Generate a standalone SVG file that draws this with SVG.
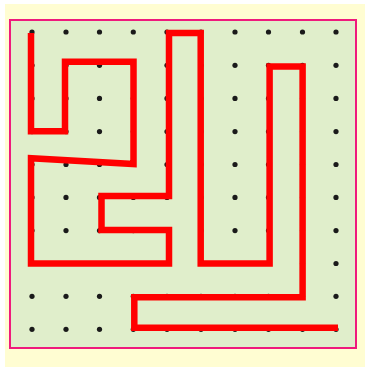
<svg xmlns="http://www.w3.org/2000/svg" width="365" height="367" viewBox="0 0 365 367">
<defs>
<style>
.dot{fill:#1a1a1a}
.line{fill:none;stroke:#ff0000;stroke-width:6.5;stroke-linejoin:miter;stroke-linecap:butt}
</style>
<g id="d"><circle class="dot" cx="32" cy="0" r="2.6"/><circle class="dot" cx="66" cy="0" r="2.6"/><circle class="dot" cx="99.5" cy="0" r="2.6"/><circle class="dot" cx="133.3" cy="0" r="2.6"/><circle class="dot" cx="167" cy="0" r="2.6"/><circle class="dot" cx="201" cy="0" r="2.6"/><circle class="dot" cx="235" cy="0" r="2.6"/><circle class="dot" cx="268.5" cy="0" r="2.6"/><circle class="dot" cx="302.5" cy="0" r="2.6"/><circle class="dot" cx="336" cy="0" r="2.6"/></g>
</defs>
<rect x="0" y="0" width="365" height="367" fill="#ffffff"/>
<rect x="5" y="4" width="360" height="363" fill="#fffdd2"/>
<g id="board">
<rect x="10" y="20" width="346" height="328" fill="#e0eecb" stroke="#ef1a7c" stroke-width="2"/>
</g>
<g id="dots">
<use href="#d" y="32"/>
<use href="#d" y="65.3"/>
<use href="#d" y="98.4"/>
<use href="#d" y="131.6"/>
<use href="#d" y="164.5"/>
<use href="#d" y="197.4"/>
<use href="#d" y="230.6"/>
<use href="#d" y="263.5"/>
<use href="#d" y="296.3"/>
<use href="#d" y="329.3"/>
</g>
<g id="connectors">
<path class="line" d="M31,33 V131.3 H65 V61.7 H133.5 V164 L31,158.3 V263.5 H169 V230 H101.5 V196 H169 V33 H200.7 V263.4 H269.6 V66.5 H302.6 V297.3 H134.3 V327.7 H338"/>
</g>
</svg>
